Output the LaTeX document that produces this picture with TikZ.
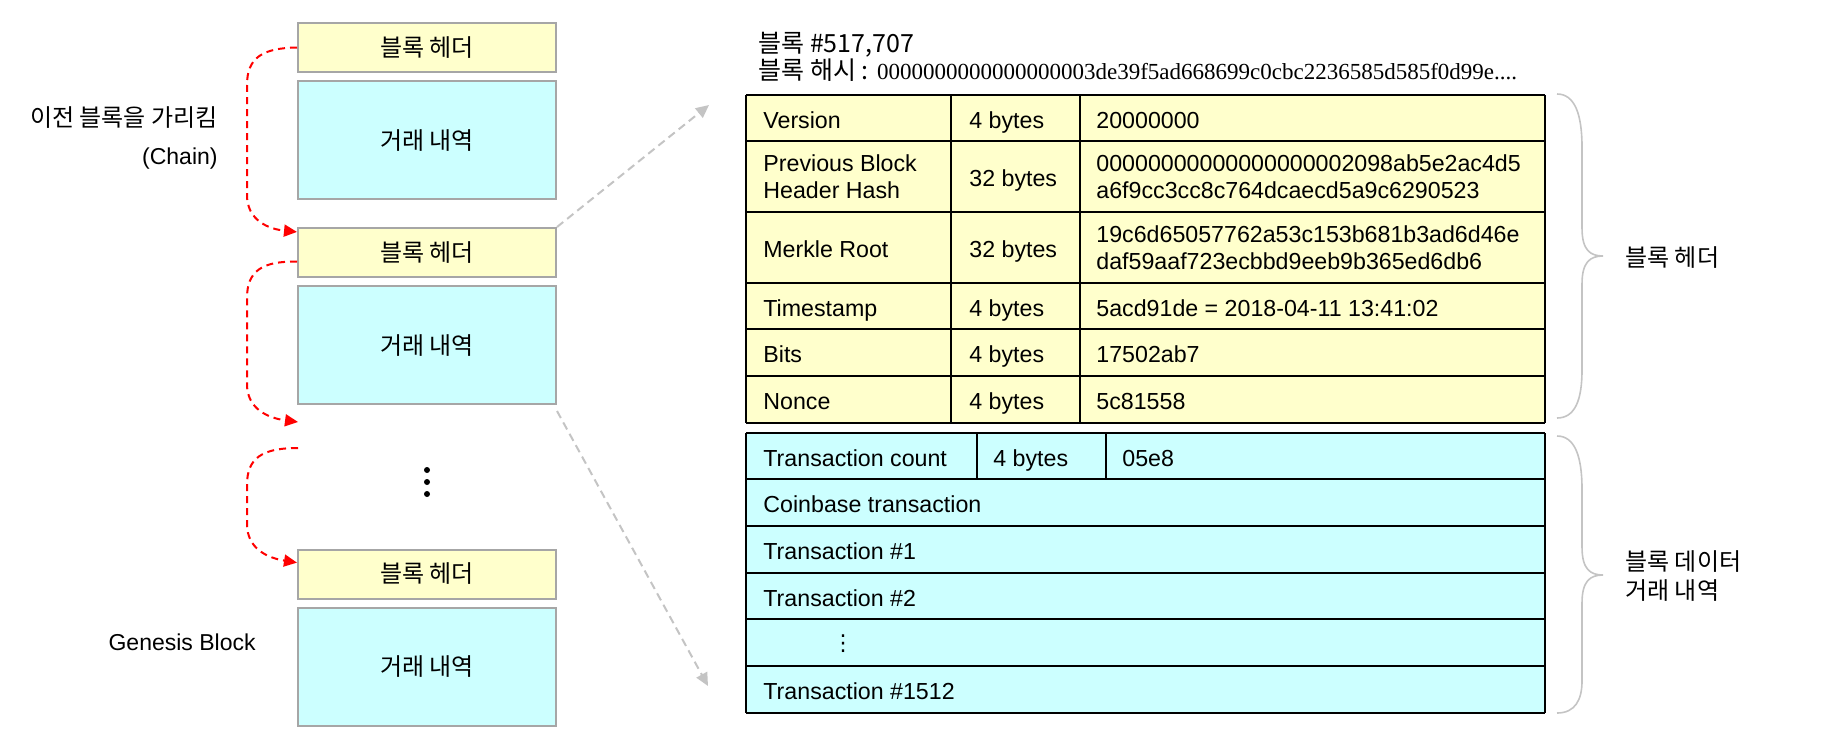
\documentclass[tikz,border=0pt]{standalone}
\usepackage{fontspec}
\setmainfont{Liberation Sans}
\newfontfamily\kr{Noto Sans CJK KR}
\newfontfamily\hashfont{Liberation Serif}
\newfontfamily\sym{DejaVu Sans}
\usetikzlibrary{arrows.meta}

\definecolor{hdrfill}{HTML}{FFFFCC}
\definecolor{txfill}{HTML}{CCFFFF}
\definecolor{boxline}{HTML}{A6A6A6}
\definecolor{faint}{HTML}{C4C4C4}

\tikzset{
  hbox/.style={draw=boxline, line width=1pt, fill=hdrfill, minimum width=129pt,
    minimum height=24.5pt, inner sep=0pt, font=\kr\fontsize{12}{14}\selectfont},
  bbox/.style={hbox, fill=txfill, minimum height=59pt},
  chain/.style={red, line width=1pt, dash pattern=on 3.5pt off 2.5pt,
    -{Triangle[length=6.5pt,width=6pt]}},
  zoomline/.style={faint, line width=1pt, dash pattern=on 4pt off 2.5pt,
    -{Triangle[length=6.5pt,width=6pt]}},
  tline/.style={black, line width=0.75pt},
  cell/.style={anchor=west, inner sep=0pt, align=left, yshift=-2.3pt,
    execute at begin node=\strut, execute at end node=\strut,
    font=\fontsize{11.6}{13.5}\selectfont},
  lbl/.style={inner sep=0pt, font=\fontsize{11.5}{14}\selectfont},
  krlbl/.style={lbl, font=\kr\fontsize{12}{14.5}\selectfont},
  brace/.style={faint, line width=0.8pt}
}

\begin{document}
\begin{tikzpicture}[x=0.5pt,y=-0.5pt]
\useasboundingbox (0,0) rectangle (1824,736);

% chain of blocks
\node[hbox] (h1) at (427,47.5) {블록 헤더};
\node[bbox] (b1) at (427,140) {거래 내역};
\node[hbox] (h2) at (427,252.5) {블록 헤더};
\node[bbox] (b2) at (427,345) {거래 내역};
\node[hbox] (h3) at (427,574) {블록 헤더};
\node[bbox] (b3) at (427,666.5) {거래 내역};
\coordinate (gap1) at (298,422);
\coordinate (gap2) at (298,448);

\foreach \y in {470,482,494}
    \fill (427,\y) circle (1.5pt);

\node[krlbl, anchor=east] (prevlbl) at (218,118) {이전 블록을 가리킴};
\node[lbl, anchor=east] (chainlbl) at (218,159) {(Chain)};
\node[lbl, anchor=east] (genesis) at (256,642) {Genesis Block};

\draw[chain] (h1.west) .. controls (262,48) and (247,58) .. (247,85) -- (247,195)
    .. controls (247,220) and (268,229) .. (h2.171);
\draw[chain] (h2.184) .. controls (262,261) and (247,271) .. (247,298) -- (247,384)
    .. controls (247,409) and (268,418) .. (gap1);
\draw[chain] (gap2) .. controls (262,448) and (247,458) .. (247,485) -- (247,524)
    .. controls (247,549) and (268,558) .. (h3.175);

% block title
\node[krlbl, anchor=west, font=\kr\fontsize{12.5}{14}\selectfont] (blkno) at (758,45) {블록 \#517,707};
\node[lbl, anchor=west] (blkhash) at (758,70)
    {{\kr\fontsize{12.5}{14}\selectfont 블록 해시 :} {\hashfont 0000000000000000003de39f5ad668699c0cbc2236585d585f0d99e....}};

% header table
\fill[hdrfill] (746,95) rectangle (1545,423);
\foreach \y in {95,141,212,283,329,376,423}
    \draw[tline] (746,\y) -- (1545,\y);
\foreach \x in {746,951,1080,1545}
    \draw[tline] (\x,95) -- (\x,423);
\foreach \y/\fld/\len/\val [count=\i] in {
    118/Version/4/20000000,
    176.5/{Previous Block\\Header Hash}/32/{00000000000000000002098ab5e2ac4d5\\a6f9cc3cc8c764dcaecd5a9c6290523},
    247.5/Merkle Root/32/{19c6d65057762a53c153b681b3ad6d46e\\daf59aaf723ecbbd9eeb9b365ed6db6},
    306/Timestamp/4/{5acd91de = 2018-04-11 13:41:02},
    352.5/Bits/4/17502ab7,
    399.5/Nonce/4/5c81558}
{
    \node[cell] (fld\i) at (763,\y) {\fld};
    \node[cell] (len\i) at (969,\y) {\len\ bytes};
    \node[cell] (val\i) at (1096,\y) {\val};
}

% transaction table
\fill[txfill] (746,433) rectangle (1545,713);
\foreach \y in {433,479,526,573,619,666,713}
    \draw[tline] (746,\y) -- (1545,\y);
\draw[tline] (746,433) -- (746,713) (1545,433) -- (1545,713)
    (977,433) -- (977,479) (1106,433) -- (1106,479);
\node[cell] (txcnt) at (763,456) {Transaction count};
\node[cell] (txlen) at (993,456) {4 bytes};
\node[cell] (txval) at (1122,456) {05e8};
\node[cell] (tx0) at (763,502.5) {Coinbase transaction};
\node[cell] (tx1) at (763,549.5) {Transaction \#1};
\node[cell] (tx2) at (763,596) {Transaction \#2};
\node[inner sep=0pt, font=\sym\fontsize{11}{13}\selectfont] (txdots) at (843,644) {⋮};
\node[cell] (txlast) at (763,689.5) {Transaction \#1512};

% zoom lines
\coordinate (zt) at (709,105);
\coordinate (zb) at (708,686);
\draw[zoomline] (h2.north east) -- (zt);
\draw[zoomline] ([yshift=-3pt]b2.south east) -- (zb);

% braces
\draw[brace] (1557,94) .. controls (1575,94) and (1582,115) .. (1582,147) -- (1582,228)
    .. controls (1582,250) and (1590,256) .. (1603,256)
    .. controls (1590,256) and (1582,262) .. (1582,284) -- (1582,370)
    .. controls (1582,400) and (1575,418) .. (1557,418);
\draw[brace] (1557,436) .. controls (1575,436) and (1582,457) .. (1582,489) -- (1582,547)
    .. controls (1582,569) and (1590,575) .. (1603,575)
    .. controls (1590,575) and (1582,581) .. (1582,603) -- (1582,681)
    .. controls (1582,700) and (1575,713) .. (1557,713);
\node[krlbl, anchor=west] (hdrlbl) at (1625,258) {블록 헤더};
\node[krlbl, anchor=west, align=left] (datalbl) at (1625,576) {블록 데이터\\거래 내역};
\end{tikzpicture}
\end{document}
